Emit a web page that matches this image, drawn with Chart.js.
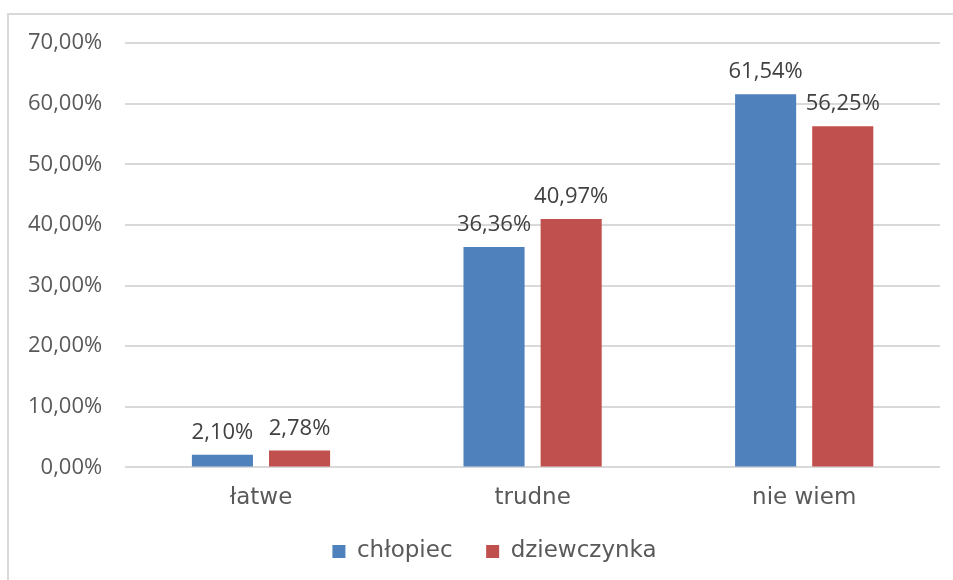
<!DOCTYPE html>
<html>
<head>
<meta charset="utf-8">
<script src="https://cdn.jsdelivr.net/npm/chart.js@4"></script>
<style>
  html, body { margin: 0; padding: 0; background: #fff; overflow: hidden; }
  #wrap { position: relative; width: 953px; height: 580px; }
  #frame { position: absolute; left: 7px; top: 13px; width: 2000px; height: 2000px; border: 2px solid #d9d9d9; box-sizing: border-box; }
  canvas { position: absolute; left: 0; top: 0; }
</style>
</head>
<body>
<div id="wrap">
  <div id="frame"></div>
  <canvas id="chart" width="953" height="580"></canvas>
</div>
<script>
// dane
const kategorie = ['łatwe', 'trudne', 'nie wiem'];
const chlopiec = [2.10, 36.36, 61.54];
const dziewczynka = [2.78, 40.97, 56.25];
const serie = ['chłopiec', 'dziewczynka'];

const fmt = v => v.toFixed(2).replace('.', ',') + '%';

// etykiety wartości nad słupkami
const etykiety = {
    id: 'etykiety',
    afterLayout(chart) {
        // legenda w oryginale jest lekko przesunięta w prawo
        chart.legend.left += 22;
        chart.legend.right += 22;
    },
    afterDatasetsDraw(chart) {
        const c = chart.ctx;
        c.save();
        c.font = '22px "Open Sans"';
        c.fillStyle = '#404040';
        c.textAlign = 'center';
        c.textBaseline = 'alphabetic';
        chart.data.datasets.forEach((ds, i) => {
            chart.getDatasetMeta(i).data.forEach((bar, j) => {
                c.fillText(fmt(ds.data[j]), bar.x, bar.y - 16);
            });
        });
        c.restore();
    }
};

new Chart(document.getElementById('chart'), {
    type: 'bar',
    data: {
        labels: kategorie,
        datasets: [
            { label: serie[0], data: chlopiec, backgroundColor: '#4f81bd' },
            { label: serie[1], data: dziewczynka, backgroundColor: '#c0504d' }
        ]
    },
    options: {
        responsive: false,
        animation: false,
        categoryPercentage: 0.568,
        barPercentage: 0.792,
        layout: { padding: { left: 5, right: 13, top: 43, bottom: 7 } },
        scales: {
            x: {
                grid: { display: false },
                border: { display: false },
                ticks: { color: '#595959', font: { family: 'DejaVu Sans', size: 23 }, padding: 9 }
            },
            y: {
                min: 0,
                max: 70,
                ticks: {
                    stepSize: 10,
                    color: '#595959',
                    font: { family: 'Open Sans', size: 22 },
                    padding: 23,
                    callback: v => fmt(v)
                },
                grid: { color: '#d9d9d9', lineWidth: 2, drawTicks: false },
                border: { display: false }
            }
        },
        plugins: {
            legend: {
                position: 'bottom',
                labels: {
                    boxWidth: 13,
                    boxHeight: 13,
                    color: '#595959',
                    font: { family: 'DejaVu Sans', size: 23 },
                    padding: 19,
                    generateLabels(chart) {
                        const items = Chart.defaults.plugins.legend.labels.generateLabels(chart);
                        // większy odstęp między pozycjami legendy
                        items[0].text += '  ';
                        return items;
                    }
                }
            },
            tooltip: { enabled: false }
        }
    },
    plugins: [etykiety]
});
</script>
</body>
</html>
